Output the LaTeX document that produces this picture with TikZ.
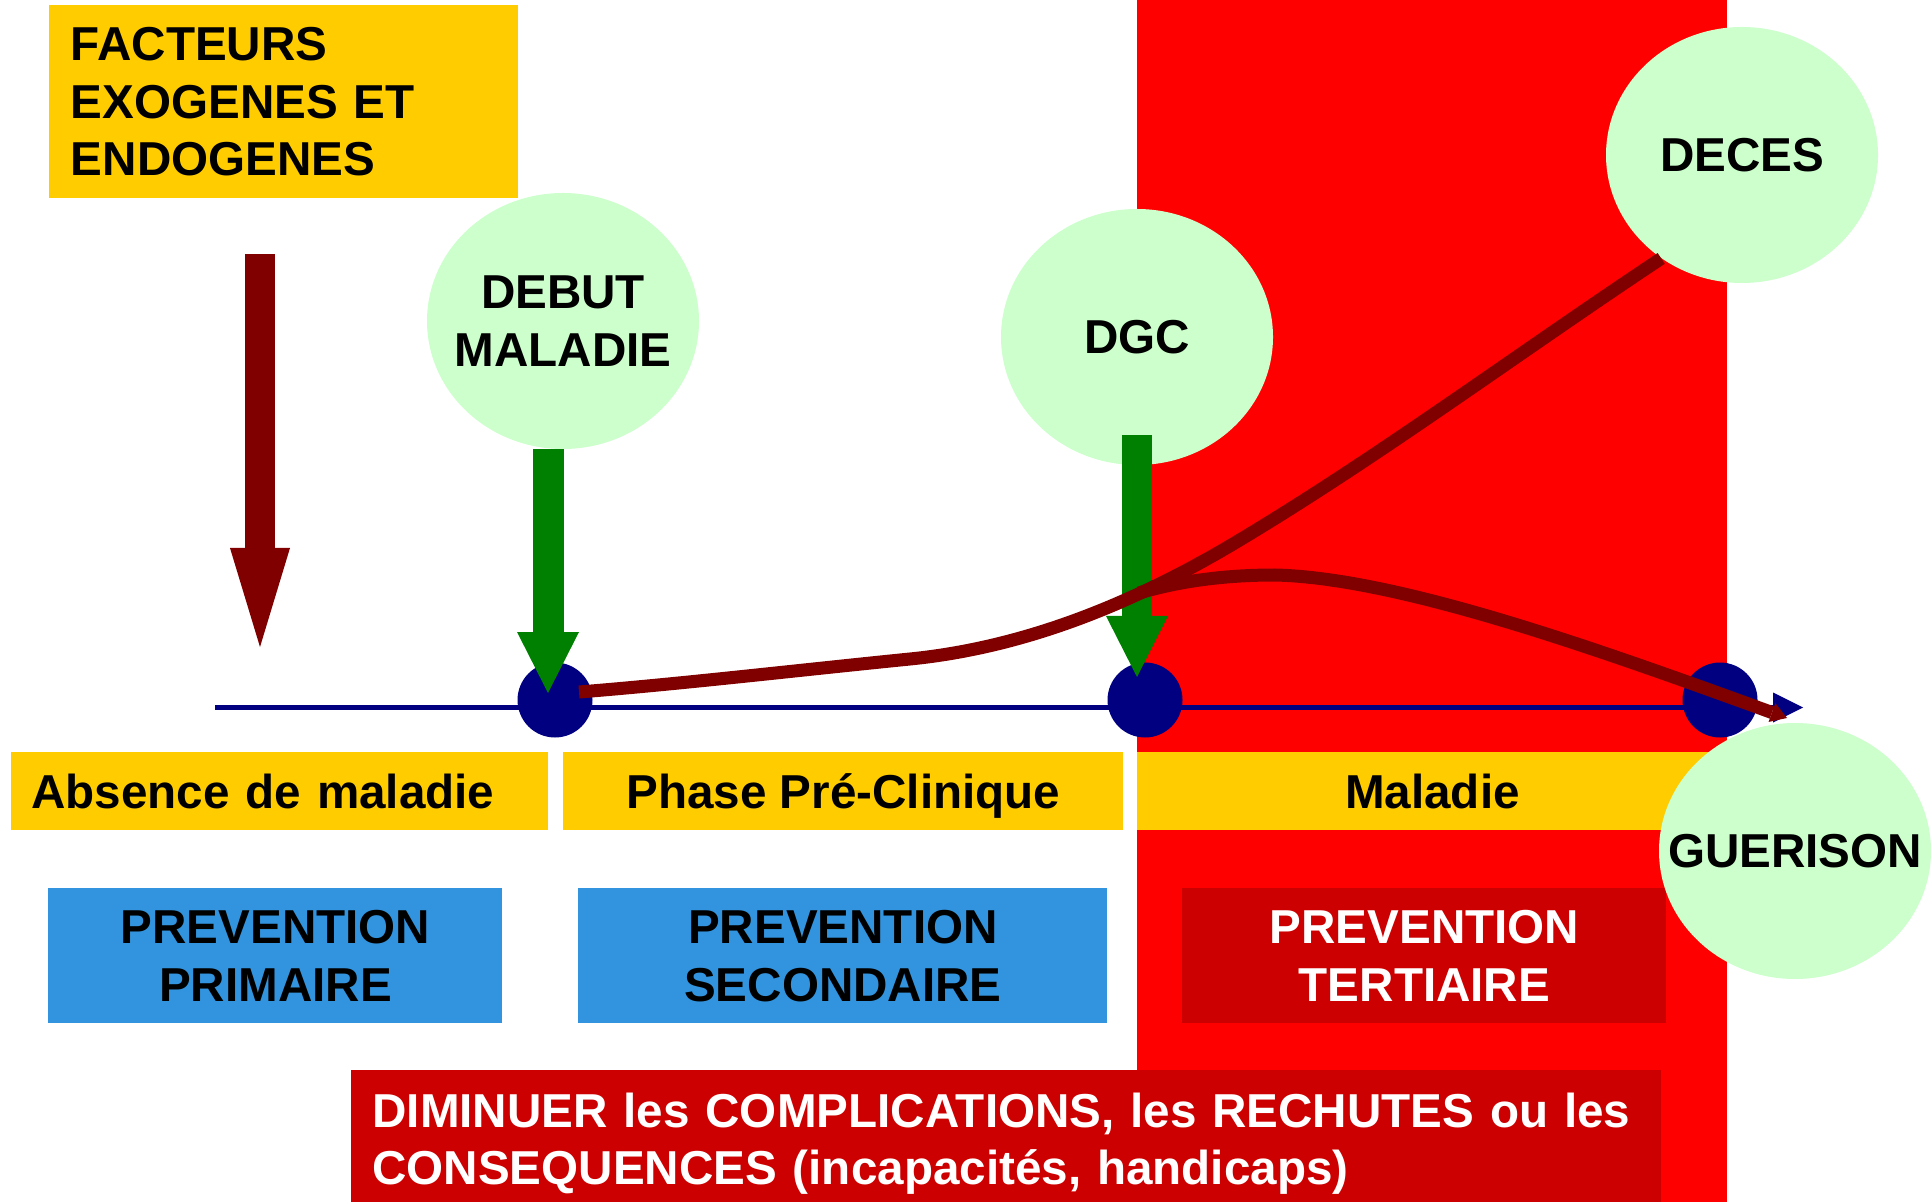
\documentclass[tikz,border=0pt]{standalone}
\usepackage{fontspec}
\setmainfont{Liberation Sans}
\usetikzlibrary{shapes.geometric,arrows.meta}
\definecolor{jaune}{HTML}{FFCC00}
\definecolor{rouge}{HTML}{FF0000}
\definecolor{rougefonce}{HTML}{CC0000}
\definecolor{bordeaux}{HTML}{800000}
\definecolor{vert}{HTML}{008000}
\definecolor{vertpale}{HTML}{CCFFCC}
\definecolor{marine}{HTML}{000080}
\definecolor{bleu}{RGB}{50,148,222}
\tikzset{
  texte/.style={font=\fontsize{23.8pt}{28.75pt}\selectfont\bfseries, inner sep=0pt, align=center},
  phase/.style={texte, fill=jaune, anchor=north west, minimum height=39pt, text height=19.5pt, text depth=2.5pt},
  prevention/.style={texte, fill=bleu, anchor=north west, minimum height=67.5pt},
  bulle/.style={ellipse, fill=vertpale, minimum width=136pt, minimum height=128pt, inner sep=0pt,
    label={[texte]center:#1}},
  point/.style={circle, fill=marine, minimum size=37.5pt, inner sep=0pt},
  flecheverte/.style={vert, line width=15.5pt, -{Triangle[length=30.5pt,width=31pt,line width=0pt]}},
  evolution/.style={bordeaux, line width=6.5pt}
}
\begin{document}
\begin{tikzpicture}[x=0.5pt, y=-0.5pt]
  \useasboundingbox (0,0) rectangle (1931,1202);
  \fill[rouge] (1137,0) rectangle (1727,1202);

  \node[texte, fill=jaune, anchor=north west, text width=213pt, align=left, inner xsep=10.75pt, minimum height=96.5pt]
    (facteurs) at (49,5) {FACTEURS\\EXOGENES ET\\ENDOGENES};
  \coordinate (f-haut) at (260,254);
  \coordinate (f-bas) at (260,647);
  \draw[bordeaux, line width=15pt, -{Triangle[length=49.5pt,width=30pt,line width=0pt]}] (f-haut) -- (f-bas);

  \node[bulle={DEBUT\\MALADIE}] (debut) at (563,321) {};
  \node[bulle=DGC] (dgc) at (1137,337) {};
  \node[bulle=DECES] (deces) at (1742,155) {};

  \node[phase, minimum width=268.5pt, text width=248.5pt, align=left, inner xsep=10pt] (absence) at (11,752) {Absence de maladie};
  \node[phase, minimum width=280pt] (preclinique) at (563,752) {Phase Pré-Clinique};
  \node[phase, minimum width=295pt] (maladie) at (1137,752) {Maladie};

  \node[prevention, minimum width=227pt] (primaire) at (48,888) {PREVENTION\\PRIMAIRE};
  \node[prevention, minimum width=264.5pt] (secondaire) at (578,888) {PREVENTION\\SECONDAIRE};
  \node[prevention, minimum width=242pt, fill=rougefonce, text=white] (tertiaire) at (1182,888) {PREVENTION\\TERTIAIRE};

  \node[texte, fill=rougefonce, text=white, align=left, anchor=north west, text width=634pt, inner xsep=10.5pt, inner ysep=11.2pt]
    (diminuer) at (351,1070) {DIMINUER les COMPLICATIONS, les RECHUTES ou les\\CONSEQUENCES (incapacités, handicaps)};

  \coordinate (axe-debut) at (215,707.5);
  \coordinate (axe-fin) at (1803,707.5);
  \draw[marine, line width=2.5pt, -{Triangle[length=15pt,width=15pt,line width=0pt]}] (axe-debut) -- (axe-fin);
  \foreach \n/\x in {1/555, 2/1145, 3/1720}
    \node[point] (dot\n) at (\x,700) {};

  \coordinate (g1) at (548,693);
  \coordinate (g2) at (1137,677);
  \draw[flecheverte] (debut.south -| g1) -- (g1);
  \draw[flecheverte, line width=15pt] ([yshift=15pt]dgc.south) -- (g2);

  \coordinate (depart) at (579,692);
  \coordinate (fourche) at (1139,593);
  \coordinate (fin) at (1787,718);
  \draw[evolution] (depart) .. controls (680,684) and (800,670) .. (910,659)
    .. controls (1020,648) and (1128,607) .. (1238,541)
    .. controls (1380,456) and (1520,352) .. (deces.232);
  \draw[evolution, -{Triangle[length=8pt,width=10pt,line width=0pt]}] (fourche) .. controls (1180,581) and (1225,575) .. (1275,575)
    .. controls (1400,578) and (1600,650) .. (fin);

  \node[bulle=GUERISON] (guerison) at (1795,851) {};
\end{tikzpicture}
\end{document}
